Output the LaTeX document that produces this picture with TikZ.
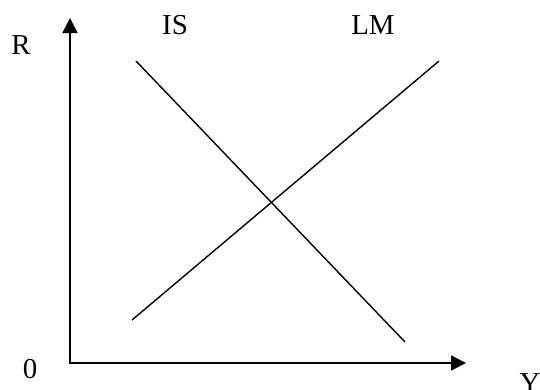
\documentclass[tikz,border=0pt]{standalone}
\usepackage{fontspec}
\setmainfont{Liberation Serif}
\usetikzlibrary{arrows.meta}

\begin{document}
\begin{tikzpicture}[
  x=1bp, y=-1bp,
  axisline/.style={line width=1.7bp, -{Triangle[length=15bp, width=15bp]}},
  curveline/.style={line width=1.4bp},
  axislabel/.style={font=\fontsize{29}{31}\selectfont, inner sep=0pt},
]
\useasboundingbox (0,0) rectangle (540,389);

% Axes
\coordinate (origin) at (70,363);
\coordinate (ytip) at (70,18);
\coordinate (xtip) at (466,363);
\draw[axisline] (origin) -- (ytip);
\draw[axisline] ([xshift=-0.8bp]origin) -- (xtip);

% Axis labels
\node[axislabel] (rlabel) at (21,45) {R};
\node[axislabel] (zero) at (30,369) {0};
\node[axislabel] (ylabel) at (530,383) {Y};

% IS curve
\coordinate (is1) at (136,61);
\coordinate (is2) at (405,342);
\draw[curveline] (is1) -- (is2);
\node[axislabel] (islabel) at (175,25) {IS};

% LM curve
\coordinate (lm1) at (132,320);
\coordinate (lm2) at (439,61);
\draw[curveline] (lm1) -- (lm2);
\node[axislabel] (lmlabel) at (373,25) {LM};

\end{tikzpicture}
\end{document}
